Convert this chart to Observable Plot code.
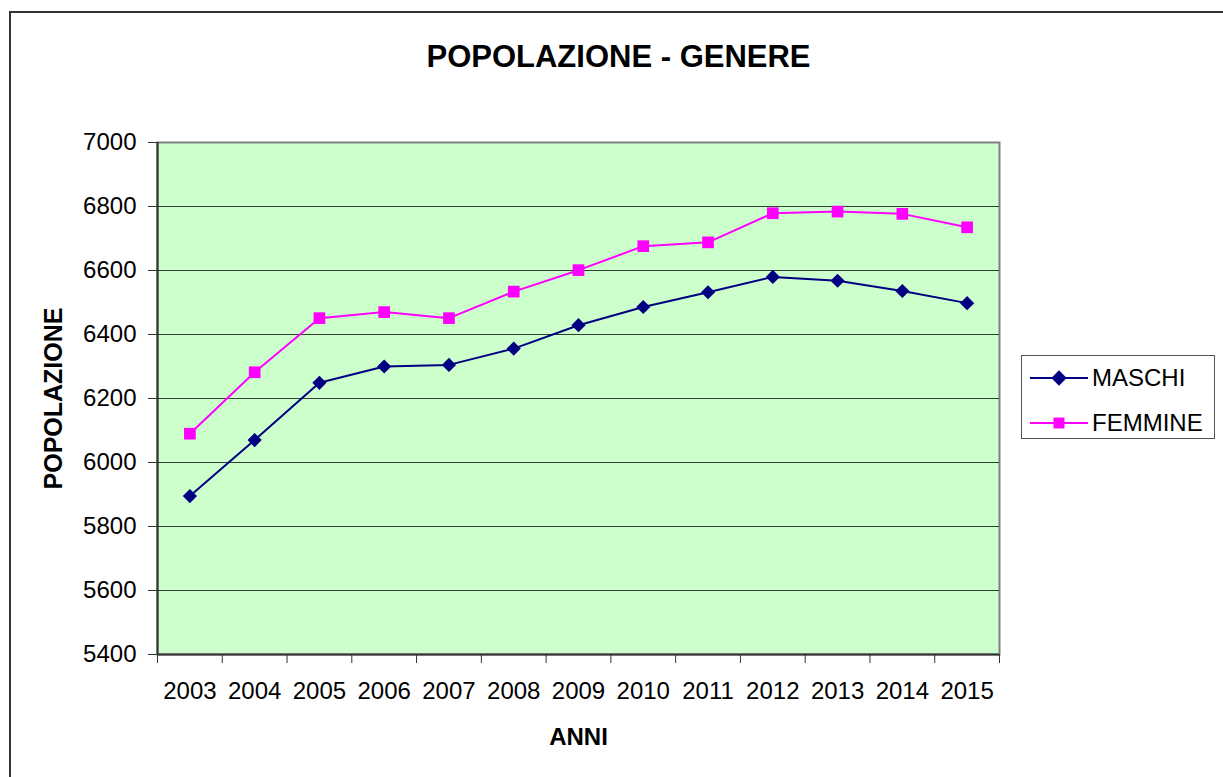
<!DOCTYPE html>
<html>
<head>
<meta charset="utf-8">
<script src="https://cdn.jsdelivr.net/npm/d3@7"></script>
<script src="https://cdn.jsdelivr.net/npm/@observablehq/plot@0.6"></script>
<style>
  body { margin: 0; background: #fff; font-family: "Liberation Sans", Arial, sans-serif; }
  #wrap { position: relative; width: 1223px; height: 777px; overflow: hidden; }
  #border { position: absolute; left: 9px; top: 11px; width: 1230px; height: 790px; border: 2px solid #333; box-sizing: border-box; }
  #chart { position: absolute; left: 0; top: 0; }
  #legend { position: absolute; left: 1021px; top: 355px; width: 194px; height: 84px; border: 1px solid #555; box-sizing: border-box; background: #fff; }
  .row { position: absolute; left: 0; height: 30px; display: flex; align-items: center; }
  .row span { font-size: 24px; color: #000; margin-left: 4px; }
</style>
</head>
<body>
<div id="wrap">
  <div id="border"></div>
  <div id="chart"></div>
  <div id="legend"></div>
</div>
<script>
const years = [2003, 2004, 2005, 2006, 2007, 2008, 2009, 2010, 2011, 2012, 2013, 2014, 2015];
const maschi = [5895, 6070, 6249, 6300, 6305, 6356, 6429, 6486, 6532, 6580, 6568, 6536, 6498];
const femmine = [6090, 6282, 6451, 6470, 6451, 6534, 6601, 6676, 6688, 6779, 6784, 6777, 6735];
const yTicks = [5400, 5600, 5800, 6000, 6200, 6400, 6600, 6800, 7000];
const seriesNames = ["MASCHI", "FEMMINE"];
const seriesColors = ["#000080", "#FF00FF"];
const seriesSymbols = ["diamond2", "square"];

const dataM = years.map((y, i) => ({ year: y, value: maschi[i], serie: seriesNames[0] }));
const dataF = years.map((y, i) => ({ year: y, value: femmine[i], serie: seriesNames[1] }));
const boundaries = [...years.map(y => y - 0.5), years[years.length - 1] + 0.5];
const xDomain = [boundaries[0], boundaries[boundaries.length - 1]];
const yDomain = [yTicks[0], yTicks[yTicks.length - 1]];

const font = "'Liberation Sans', Arial, sans-serif";

const chart = Plot.plot({
  width: 1223,
  height: 777,
  marginLeft: 157,
  marginRight: 224,
  marginTop: 142,
  marginBottom: 123,
  style: { fontFamily: font, background: "transparent", overflow: "visible" },
  x: { type: "linear", domain: xDomain },
  y: { domain: yDomain },
  marks: [
    Plot.frame({ fill: "#CCFFCC", stroke: "#808080", strokeWidth: 2 }),
    Plot.gridY(yTicks.slice(1, -1), { stroke: "#000", strokeOpacity: 0.75, strokeWidth: 1 }),
    Plot.ruleX([xDomain[0]], { stroke: "#333", strokeWidth: 2 }),
    Plot.ruleY([yDomain[0]], { stroke: "#333", strokeWidth: 2 }),
    Plot.axisY(yTicks, { tickSize: 9, tickPadding: 12, fontSize: 24, stroke: "#333", label: null, fill: "#000", tickFormat: d => String(d) }),
    Plot.axisX(boundaries, { tickSize: 9, tickFormat: () => "", stroke: "#333", label: null }),
    Plot.axisX(years, { tickSize: 0, tickPadding: 27, fontSize: 24, tickFormat: d => String(d), label: null, fill: "#000" }),
    Plot.line(dataM, { x: "year", y: "value", stroke: seriesColors[0], strokeWidth: 2 }),
    Plot.line(dataF, { x: "year", y: "value", stroke: seriesColors[1], strokeWidth: 2 }),
    Plot.dot(dataM, { x: "year", y: "value", fill: seriesColors[0], symbol: seriesSymbols[0], r: 6.4, stroke: null }),
    Plot.dot(dataF, { x: "year", y: "value", fill: seriesColors[1], symbol: seriesSymbols[1], r: 6.6, stroke: null }),
    Plot.text(["POPOLAZIONE - GENERE"], { frameAnchor: "top", dx: 40, dy: -85, fontSize: 31, fontWeight: "bold", fill: "#000", lineAnchor: "middle" }),
    Plot.text(["ANNI"], { frameAnchor: "bottom", dy: 83, fontSize: 24, fontWeight: "bold", fill: "#000", lineAnchor: "middle" }),
    Plot.text(["POPOLAZIONE"], { frameAnchor: "left", textAnchor: "middle", dx: -104, rotate: -90, fontSize: 25, fontWeight: "bold", fill: "#000", lineAnchor: "middle" })
  ]
});
document.getElementById("chart").appendChild(chart);

// legend
const legend = document.getElementById("legend");
seriesNames.forEach((name, i) => {
  const row = document.createElement("div");
  row.className = "row";
  row.style.top = (i === 0 ? 7 : 52) + "px";
  row.style.left = "8px";
  const sym = d3.create("svg").attr("width", 58).attr("height", 30);
  sym.append("line").attr("x1", 0).attr("x2", 58).attr("y1", 15).attr("y2", 15)
    .attr("stroke", seriesColors[i]).attr("stroke-width", 2);
  const path = i === 0
    ? d3.symbol(d3.symbolDiamond2, 150)()
    : d3.symbol(d3.symbolSquare, 120)();
  sym.append("path").attr("d", path).attr("transform", "translate(29,15)").attr("fill", seriesColors[i]);
  row.appendChild(sym.node());
  const label = document.createElement("span");
  label.textContent = name;
  row.appendChild(label);
  legend.appendChild(row);
});
</script>
</body>
</html>
